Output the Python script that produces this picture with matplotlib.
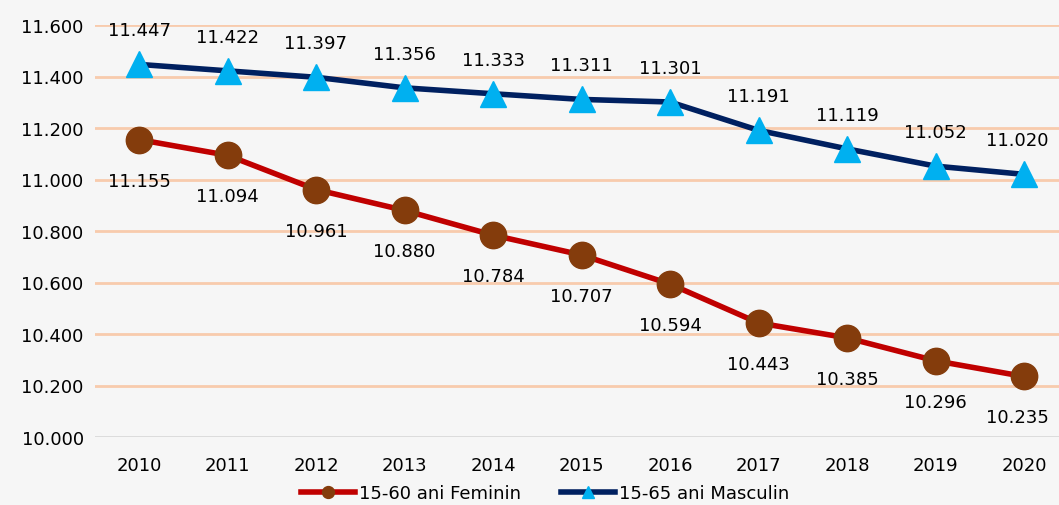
import matplotlib.pyplot as plt

years = ['2010', '2011', '2012', '2013', '2014', '2015', '2016', '2017', '2018', '2019', '2020']
feminin = [11.155, 11.094, 10.961, 10.880, 10.784, 10.707, 10.594, 10.443, 10.385, 10.296, 10.235]
masculin = [11.447, 11.422, 11.397, 11.356, 11.333, 11.311, 11.301, 11.191, 11.119, 11.052, 11.020]
y_ticks = [10.0, 10.2, 10.4, 10.6, 10.8, 11.0, 11.2, 11.4, 11.6]


def fmt(v):
    return f"{v:.3f}"


fig = plt.figure(figsize=(10.59, 5.06), dpi=100)
fig.patch.set_facecolor('#f6f6f6')
ax = fig.add_axes([94.75 / 1059, 68 / 506, 973.5 / 1059, 412 / 506])
ax.set_facecolor('none')

x = list(range(len(years)))
ax.set_xlim(-0.5, len(years) - 0.5)
ax.set_ylim(10.0, 11.6)

for t in y_ticks[1:]:
    ax.axhline(t, color='#f8cbad', linewidth=2, zorder=1)
ax.axhline(10.0, color='#d9d9d9', linewidth=2, zorder=1)

ax.plot(x, feminin, color='#c00000', linewidth=4, marker='o', markersize=19,
        markerfacecolor='#843c0c', markeredgecolor='#843c0c', zorder=3,
        label='15-60 ani Feminin')
ax.plot(x, masculin, color='#002060', linewidth=4, marker='^', markersize=19,
        markerfacecolor='#00b0f0', markeredgecolor='#00b0f0', zorder=3,
        label='15-65 ani Masculin')

last = len(years) - 1
for i in x:
    dx = -7 if i == last else 0
    ax.annotate(fmt(feminin[i]), (i, feminin[i]), xytext=(dx, -41), textcoords='offset pixels',
                ha='center', va='center', fontsize=13, color='black')
    ax.annotate(fmt(masculin[i]), (i, masculin[i]), xytext=(dx, 34), textcoords='offset pixels',
                ha='center', va='center', fontsize=13, color='black')

ax.set_xticks(x)
ax.set_xticklabels(years, fontsize=13)
ax.set_yticks(y_ticks)
ax.set_yticklabels([fmt(t) for t in y_ticks], fontsize=13)
ax.tick_params(length=0, pad=8)
ax.tick_params(axis='x', pad=14)
for s in ax.spines.values():
    s.set_visible(False)

leg = fig.legend(loc='center', bbox_to_anchor=(545 / 1059, 12 / 506), ncol=2, frameon=False,
                 fontsize=13, markerscale=0.45, handlelength=3.0, columnspacing=2.2,
                 handletextpad=0.2)

fig.savefig('out.png', dpi=100, facecolor=fig.get_facecolor())
